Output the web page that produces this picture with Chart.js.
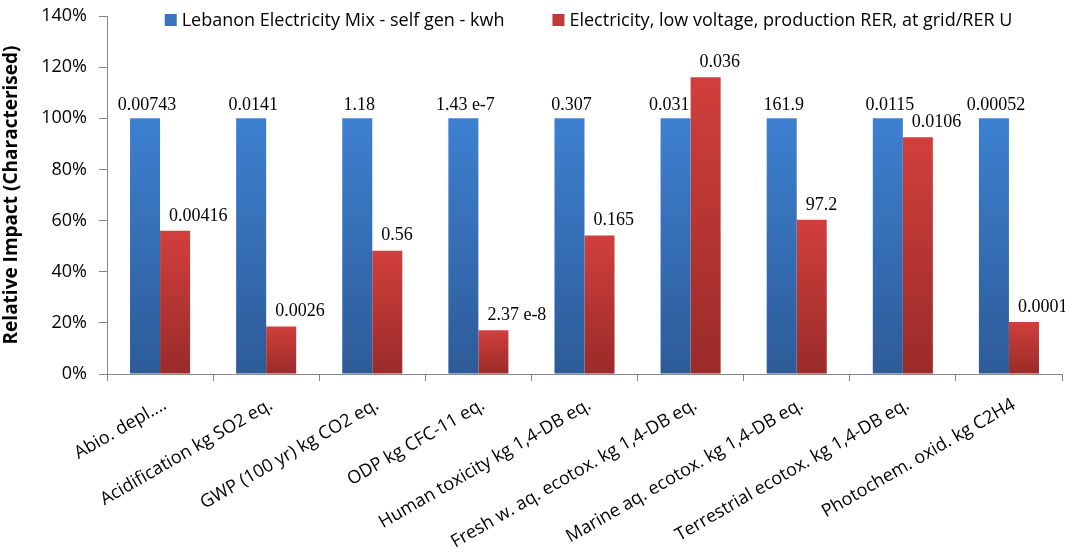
<!DOCTYPE html>
<html>
<head>
<meta charset="utf-8">
<script src="https://cdn.jsdelivr.net/npm/chart.js@4/dist/chart.umd.min.js"></script>
<style>
  html, body { margin: 0; padding: 0; background: #fff; }
  #wrap { width: 1065px; height: 556px; }
</style>
</head>
<body>
<div id="wrap"><canvas id="impactChart" width="1065" height="556"></canvas></div>
<script>
// categories (impact categories)
const categories = [
  "Abio. depl....",
  "Acidification kg SO2 eq.",
  "GWP (100 yr) kg CO2 eq.",
  "ODP kg CFC-11 eq.",
  "Human toxicity kg 1,4-DB eq.",
  "Fresh w. aq. ecotox. kg 1,4-DB eq.",
  "Marine aq. ecotox. kg 1,4-DB eq.",
  "Terrestrial ecotox. kg 1,4-DB eq.",
  "Photochem. oxid. kg C2H4",
];

const seriesNames = [
  "Lebanon Electricity Mix - self gen - kwh",
  "Electricity, low voltage, production RER, at grid/RER U",
];

// relative impact in %
const lebanonValues = [100, 100, 100, 100, 100, 100, 100, 100, 100];
const rerValues = [56, 18.6, 48.2, 17.1, 54.2, 116, 60.3, 92.6, 20.3];

// absolute values written above the bars
const lebanonLabels = ["0.00743", "0.0141", "1.18", "1.43 e-7", "0.307", "0.031", "161.9", "0.0115", "0.00052"];
const rerLabels = ["0.00416", "0.0026", "0.56", "2.37 e-8", "0.165", "0.036", "97.2", "0.0106", "0.0001"];

const yTicks = [0, 20, 40, 60, 80, 100, 120, 140];

const ctx = document.getElementById("impactChart").getContext("2d");

// vertical gradient for each bar, from its top to the baseline
function barGradient(topColor, bottomColor, fallback) {
  return (context) => {
    const chart = context.chart;
    const yScale = chart.scales.y;
    if (!chart.chartArea || !yScale || context.raw === undefined) return fallback;
    const top = yScale.getPixelForValue(context.raw);
    const bottom = yScale.getPixelForValue(0);
    if (!isFinite(top) || !isFinite(bottom) || top === bottom) return fallback;
    const g = chart.ctx.createLinearGradient(0, top, 0, bottom);
    g.addColorStop(0, topColor);
    g.addColorStop(1, bottomColor);
    return g;
  };
}

// labels above the bars
const valueLabels = {
  id: "valueLabels",
  afterDatasetsDraw(chart) {
    const c = chart.ctx;
    c.save();
    c.font = '18px "Liberation Serif", "Times New Roman", serif';
    c.fillStyle = "#000";
    c.textBaseline = "bottom";
    chart.data.datasets.forEach((ds, di) => {
      const meta = chart.getDatasetMeta(di);
      meta.data.forEach((bar, i) => {
        const text = ds.valueLabels[i];
        if (di === 0) {
          // keep the label clear of a taller neighbour bar
          const other = chart.getDatasetMeta(1).data[i];
          c.textAlign = "center";
          let x = bar.x + 2;
          if (other && other.y < bar.y) {
            c.textAlign = "right";
            x = bar.x + bar.width / 2 - 1;
          }
          c.fillText(text, x, bar.y - 4);
        } else {
          c.textAlign = "left";
          c.fillText(text, bar.x - bar.width / 2 + 9, bar.y - 6);
        }
      });
    });
    c.restore();
  },
};

// legend sits inside the top of the plot area, like the original
const topLegend = {
  id: "topLegend",
  afterDraw(chart) {
    const c = chart.ctx;
    const area = chart.chartArea;
    c.save();
    c.font = '18px "Open Sans"';
    c.textBaseline = "middle";
    c.textAlign = "left";
    const box = 12, gap = 5, itemGap = 48;
    const items = chart.data.datasets.map((ds) => ({ text: ds.label, color: ds.legendColor }));
    const widths = items.map((it) => box + gap + c.measureText(it.text).width);
    const total = widths.reduce((a, b) => a + b, 0) + itemGap * (items.length - 1);
    let x = (area.left + area.right) / 2 - total / 2 + 4;
    const y = area.top + 4;
    items.forEach((it, i) => {
      c.fillStyle = it.color;
      c.fillRect(x, y - box / 2, box, box);
      c.fillStyle = "#000";
      c.fillText(it.text, x + box + gap, y + 1);
      x += widths[i] + itemGap;
    });
    c.restore();
  },
};

new Chart(ctx, {
  type: "bar",
  data: {
    labels: categories,
    datasets: [
      {
        label: seriesNames[0],
        data: lebanonValues,
        valueLabels: lebanonLabels,
        legendColor: "#3a72bf",
        backgroundColor: barGradient("#3d80d0", "#2d5b98", "#3a72bf"),
        borderWidth: 0,
      },
      {
        label: seriesNames[1],
        data: rerValues,
        valueLabels: rerLabels,
        legendColor: "#c03a38",
        backgroundColor: barGradient("#d13f3c", "#9a2b29", "#c03a38"),
        borderWidth: 0,
      },
    ],
  },
  options: {
    responsive: false,
    animation: false,
    devicePixelRatio: 1,
    layout: { padding: { left: 0, right: 3, top: 0, bottom: 0 } },
    datasets: {
      bar: { barPercentage: 1, categoryPercentage: 0.566 },
    },
    plugins: {
      legend: { display: false },
      tooltip: { enabled: false },
    },
    scales: {
      x: {
        grid: {
          display: true,
          drawOnChartArea: false,
          offset: true,
          color: "#868686",
          tickLength: 7,
        },
        border: { color: "#868686", width: 1 },
        ticks: {
          autoSkip: false,
          maxRotation: 30,
          minRotation: 30,
          padding: 13,
          labelOffset: 5,
          color: "#000",
          font: { family: "Open Sans", size: 18 },
        },
        afterFit(scale) {
          scale.height = 182;
        },
      },
      y: {
        min: 0,
        max: 140,
        afterBuildTicks(scale) {
          scale.ticks = yTicks.map((v) => ({ value: v }));
        },
        grid: {
          display: true,
          drawOnChartArea: false,
          color: "#868686",
          tickLength: 8,
        },
        border: { color: "#868686", width: 1 },
        ticks: {
          padding: 12,
          color: "#000",
          font: { family: "Open Sans", size: 18 },
          callback: (v) => v + "%",
        },
        title: {
          display: true,
          text: "Relative Impact (Characterised)",
          color: "#000",
          font: { family: "Open Sans", size: 19, weight: "bold" },
          padding: { top: 0, bottom: 0 },
        },
        afterFit(scale) {
          scale.width = 107;
          scale.paddingTop = 16;
        },
      },
    },
  },
  plugins: [valueLabels, topLegend],
});
</script>
</body>
</html>
